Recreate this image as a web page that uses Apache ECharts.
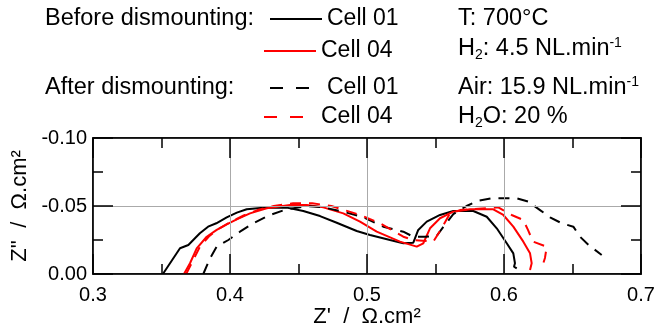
<!DOCTYPE html>
<html><head><meta charset="utf-8">
<script src="https://cdn.jsdelivr.net/npm/echarts@6/dist/echarts.min.js"></script>
<style>html,body{margin:0;padding:0;background:#fff}#c{width:658px;height:326px}</style>
</head><body><div id="c"></div>
<script>
// Impedance data, [Z', Z''] in ohm.cm2
const before01 = [[0.351,0],[0.3635,-0.0189],[0.3696,-0.0213],[0.378,-0.030],[0.384,-0.0348],[0.390,-0.0373],[0.3976,-0.0417],[0.405,-0.0451],[0.4122,-0.0476],[0.4243,-0.0488],[0.4414,-0.0488],[0.4535,-0.0463],[0.4657,-0.0426],[0.4779,-0.0377],[0.4925,-0.0316],[0.5022,-0.0287],[0.5168,-0.025],[0.5265,-0.0226],[0.5338,-0.023],[0.5374,-0.0324],[0.5436,-0.0385],[0.5533,-0.0434],[0.563,-0.0463],[0.5776,-0.0463],[0.5874,-0.0421],[0.5947,-0.0336],[0.602,-0.0226],[0.6068,-0.0152],[0.608,-0.0079],[0.6073,-0.0054],[0.6093,-0.0042]];
const before04 = [[0.3664,0],[0.3708,-0.0079],[0.3757,-0.0189],[0.383,-0.0274],[0.3903,-0.0324],[0.3976,-0.0365],[0.4049,-0.0402],[0.4146,-0.0446],[0.4268,-0.0483],[0.4438,-0.0507],[0.456,-0.0507],[0.4681,-0.049],[0.4827,-0.0446],[0.4949,-0.0385],[0.5071,-0.0311],[0.5241,-0.0238],[0.5363,-0.0201],[0.5411,-0.0226],[0.546,-0.0336],[0.5533,-0.041],[0.563,-0.0458],[0.5752,-0.0476],[0.5922,-0.0476],[0.5995,-0.0434],[0.6068,-0.0348],[0.6141,-0.0238],[0.619,-0.0152],[0.6202,-0.0079],[0.619,-0.003]];
const after01 = [[0.3805,0],[0.3854,-0.0115],[0.3903,-0.0201],[0.3988,-0.025],[0.4073,-0.0311],[0.417,-0.0373],[0.4292,-0.0434],[0.4414,-0.0476],[0.456,-0.050],[0.4681,-0.049],[0.4827,-0.0458],[0.4973,-0.0417],[0.5119,-0.0348],[0.5265,-0.0311],[0.5338,-0.0274],[0.5423,-0.0274],[0.5508,-0.0279],[0.556,-0.035],[0.563,-0.044],[0.5727,-0.050],[0.5812,-0.0539],[0.591,-0.0557],[0.6,-0.0557],[0.6093,-0.0557],[0.6177,-0.0532],[0.6263,-0.047],[0.6336,-0.0417],[0.6421,-0.0373],[0.6506,-0.0348],[0.6555,-0.0274],[0.6617,-0.0213],[0.6713,-0.014]];
const after04 = [[0.368,0],[0.373,-0.010],[0.378,-0.020],[0.385,-0.028],[0.393,-0.034],[0.400,-0.038],[0.410,-0.043],[0.420,-0.047],[0.432,-0.050],[0.446,-0.052],[0.460,-0.052],[0.474,-0.050],[0.4949,-0.0434],[0.5095,-0.0373],[0.5265,-0.0274],[0.5338,-0.025],[0.5484,-0.0238],[0.5545,-0.0336],[0.5606,-0.0446],[0.5679,-0.047],[0.5958,-0.049],[0.6056,-0.0434],[0.6141,-0.0397],[0.6175,-0.0324],[0.6212,-0.0238],[0.6312,-0.0201],[0.6299,-0.0118],[0.6275,-0.0042]];

const seriesNames = ['Before Cell 01', 'Before Cell 04', 'After Cell 01', 'After Cell 04'];
const seriesColors = ['#000000', '#ff0000', '#000000', '#ff0000'];
const seriesData = [before01, before04, after01, after04];
const xRange = [0.3, 0.7, 0.1];
const yRange = [-0.1, 0, 0.05];
const xName = "Z'  /  \u03A9.cm\u00B2";
const yName = "Z''  /  \u03A9.cm\u00B2";

const FONT = 'Liberation Sans, Arial, Helvetica, sans-serif';

function ax(type, pos, main) {
  const o = {type: 'value', position: pos, show: true, z: 10};
  if (type === 'x') { o.min = xRange[0]; o.max = xRange[1]; o.interval = xRange[2]; }
  else { o.min = yRange[0]; o.max = yRange[1]; o.interval = yRange[2]; o.inverse = true; }
  o.axisLine = {show: true, onZero: false, lineStyle: {color: '#000', width: 1.5}};
  o.axisTick = {show: true, inside: true, length: 20, lineStyle: {color: '#000', width: 1.5}};
  o.minorTick = {show: true, splitNumber: 2, length: 10, lineStyle: {color: '#000', width: 1.5}};
  o.splitLine = {show: main, lineStyle: {color: '#aaa'}};
  o.axisLabel = {show: main, fontSize: 20, color: '#000', fontFamily: FONT, margin: type === 'x' ? 11 : 6,
    formatter: v => v.toFixed(type === 'x' ? 1 : 2)};
  o.name = main ? (type === 'x' ? xName : yName) : '';
  o.nameLocation = 'middle';
  o.nameGap = type === 'x' ? 30 : 54;
  if (type === 'y') o.nameRotate = 90;
  o.nameTextStyle = {fontSize: 22, color: '#000', fontFamily: FONT};
  return o;
}

const legendRows = [
  {left: 269, top: 7.5, dash: 'solid'},
  {left: 263, top: 39.5, dash: 'solid'},
  {left: 269, top: 76.5, dash: [13, 13]},
  {left: 263, top: 105.5, dash: [13, 13]}
];
const legends = seriesNames.map((n, i) => ({
  data: [n], left: legendRows[i].left, top: legendRows[i].top, padding: 0,
  itemWidth: 52, itemHeight: 14, selectedMode: false,
  itemStyle: {opacity: 0},
  lineStyle: {type: legendRows[i].dash, width: 2},
  textStyle: {fontSize: 23, color: '#000', fontFamily: FONT},
  formatter: name => name.replace(/^(Before|After) /, '')
}));

const richBase = {
  a: {fontSize: 23.5, lineHeight: 26, fontFamily: FONT, fill: '#000'},
  s: {fontSize: 14, lineHeight: 8, verticalAlign: 'bottom', fontFamily: FONT, fill: '#000'},
  p: {fontSize: 14, lineHeight: 8, verticalAlign: 'top', fontFamily: FONT, fill: '#000'}
};
function mkText(x, y, text, rich) {
  return {type: 'text', x: x, y: y, silent: true,
    style: {text: text, fontSize: 23.5, fontFamily: FONT, fill: '#000', verticalAlign: 'middle', align: 'left', rich: rich ? richBase : undefined}};
}

const chart = echarts.init(document.getElementById('c'), null, {renderer: 'canvas'});
chart.setOption({
  animation: false,
  grid: {left: 93, right: 17, top: 138, bottom: 52, containLabel: false, outerBoundsMode: 'none',
    show: true, borderColor: '#000', borderWidth: 1.5, backgroundColor: 'transparent'},
  xAxis: [ax('x', 'bottom', true), ax('x', 'top', false)],
  yAxis: [ax('y', 'left', true), ax('y', 'right', false)],
  legend: legends,
  graphic: [
    mkText(45, 19, 'Before dismounting:'),
    mkText(45, 88, 'After dismounting:'),
    mkText(458, 19, 'T: 700\u00B0C'),
    mkText(458, 49, '{a|H}{s|2}{a|: 4.5 NL.min}{p|-1}', true),
    mkText(458, 88, '{a|Air: 15.9 NL.min}{p|-1}', true),
    mkText(458, 117, '{a|H}{s|2}{a|O: 20 %}', true)
  ],
  series: seriesNames.map((n, i) => ({
    name: n, type: 'line', data: seriesData[i], xAxisIndex: 0, yAxisIndex: 0,
    symbol: 'none', showSymbol: false, clip: true,
    lineStyle: {color: seriesColors[i], width: 2, type: i < 2 ? 'solid' : [11, 8]},
    itemStyle: {color: seriesColors[i]},
    z: 3 + i
  }))
});
</script></body></html>
